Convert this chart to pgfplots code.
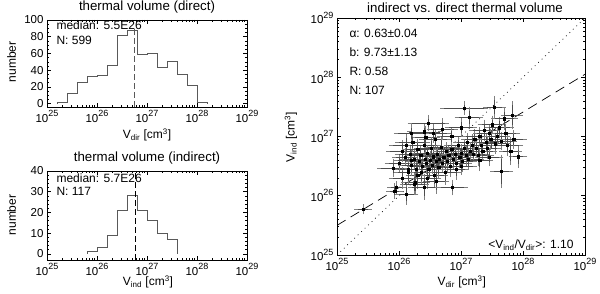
\documentclass[border=0pt]{standalone}
\usepackage{pgfplots}
\usepackage{pgfplotstable}
\pgfplotsset{compat=1.18}
\usepackage{fontspec}
\setmainfont{Liberation Sans}
\newcommand{\tp}[1]{10\raisebox{0.5em}{\fontsize{9}{9}\selectfont#1}}
\newcommand{\fs}{\fontsize{12}{13}\selectfont}
\newcommand{\ft}{\fontsize{13.3}{14}\selectfont}

\pgfplotstableread{
x y ex ey
25.42 25.77 0.11 0.05
25.93 26.08 0.10 0.10
25.96 26.14 0.12 0.07
26.12 26.03 0.16 0.15
25.90 26.47 0.22 0.12
26.05 26.30 0.18 0.15
26.15 26.45 0.20 0.15
26.20 26.60 0.25 0.15
26.26 26.22 0.20 0.18
26.30 26.35 0.15 0.20
26.86 26.14 0.22 0.10
27.65 26.41 0.15 0.25
27.92 26.66 0.12 0.15
27.80 26.75 0.15 0.20
27.05 27.48 0.35 0.08
27.54 27.50 0.15 0.15
27.13 27.32 0.20 0.15
27.82 27.36 0.15 0.20
26.41 27.08 0.25 0.10
26.43 26.99 0.20 0.15
26.47 27.23 0.30 0.10
26.00 26.55 0.20 0.12
26.05 26.75 0.22 0.15
26.10 26.65 0.18 0.12
26.12 26.85 0.25 0.15
26.15 26.40 0.20 0.18
26.18 26.70 0.22 0.12
26.20 26.52 0.18 0.15
26.22 26.90 0.25 0.12
26.25 26.62 0.20 0.15
26.28 26.45 0.15 0.12
26.30 26.78 0.22 0.15
26.32 26.58 0.18 0.10
26.35 26.68 0.20 0.15
26.36 26.40 0.15 0.18
26.38 26.50 0.22 0.12
26.40 26.85 0.25 0.15
26.42 26.62 0.18 0.12
26.44 26.55 0.20 0.15
26.45 26.72 0.22 0.10
26.48 26.45 0.18 0.15
26.50 26.60 0.20 0.12
26.52 26.80 0.25 0.15
26.54 26.52 0.15 0.12
26.55 26.66 0.20 0.15
26.57 26.35 0.18 0.18
26.58 26.95 0.22 0.12
26.60 26.58 0.20 0.15
26.62 26.70 0.18 0.12
26.64 26.48 0.22 0.15
26.65 26.62 0.20 0.10
26.68 26.82 0.25 0.15
26.70 26.55 0.18 0.12
26.72 26.65 0.20 0.15
26.74 26.40 0.22 0.18
26.76 26.75 0.18 0.12
26.78 26.58 0.20 0.15
26.80 26.68 0.22 0.12
26.82 26.50 0.18 0.15
26.85 26.78 0.25 0.12
26.88 26.62 0.20 0.15
26.90 26.70 0.18 0.10
26.92 26.55 0.22 0.15
26.95 26.85 0.20 0.12
26.98 26.65 0.18 0.15
27.00 26.72 0.22 0.12
27.02 26.58 0.20 0.15
27.05 26.80 0.25 0.12
27.08 26.68 0.18 0.15
27.10 26.90 0.20 0.12
27.12 26.62 0.22 0.15
27.15 26.75 0.18 0.12
27.18 26.85 0.20 0.15
27.20 26.70 0.22 0.10
27.22 26.95 0.18 0.15
27.25 26.80 0.20 0.12
27.28 26.68 0.22 0.15
27.30 27.00 0.25 0.12
27.32 26.85 0.18 0.15
27.35 26.75 0.20 0.12
27.38 27.10 0.22 0.15
27.40 26.90 0.18 0.12
27.42 26.80 0.20 0.15
27.45 27.05 0.22 0.12
27.48 26.95 0.18 0.15
27.50 27.20 0.20 0.12
27.55 26.88 0.22 0.15
27.58 27.00 0.18 0.12
27.62 27.15 0.20 0.15
27.65 26.92 0.22 0.12
27.70 27.30 0.18 0.15
27.72 27.05 0.20 0.12
27.75 26.85 0.22 0.15
27.85 26.95 0.18 0.12
26.55 27.05 0.25 0.12
26.70 27.12 0.22 0.15
26.85 27.00 0.20 0.12
26.92 26.45 0.18 0.15
27.00 26.50 0.22 0.12
26.45 26.30 0.20 0.15
26.60 26.25 0.18 0.18
26.25 26.20 0.20 0.15
26.40 26.15 0.22 0.18
27.30 26.60 0.18 0.15
27.45 26.65 0.20 0.12
27.00 27.15 0.22 0.12
26.20 27.05 0.25 0.12
}\scat

\pgfplotsset{
  idl/.style={scale only axis, axis line style={black, line width=0.6pt},
    tick align=inside, xtick pos=both, ytick pos=both,
    major tick length=4pt, minor tick length=2pt,
    every tick/.style={black, line width=0.5pt},
    ticklabel style={font=\fontsize{11.5}{12}\selectfont},
    /pgf/number format/assume math mode=true},
  expx/.style={xmin=25, xmax=29, xtick={25,26,27,28,29},
    xticklabels={\tp{25},\tp{26},\tp{27},\tp{28},\tp{29}},
    minor xtick={25.301,25.477,25.602,25.699,25.778,25.845,25.903,25.954,
      26.301,26.477,26.602,26.699,26.778,26.845,26.903,26.954,
      27.301,27.477,27.602,27.699,27.778,27.845,27.903,27.954,
      28.301,28.477,28.602,28.699,28.778,28.845,28.903,28.954}},
  expy/.style={ymin=25, ymax=29, ytick={25,26,27,28,29},
    yticklabels={\tp{25},\tp{26},\tp{27},\tp{28},\tp{29}},
    minor ytick={25.301,25.477,25.602,25.699,25.778,25.845,25.903,25.954,
      26.301,26.477,26.602,26.699,26.778,26.845,26.903,26.954,
      27.301,27.477,27.602,27.699,27.778,27.845,27.903,27.954,
      28.301,28.477,28.602,28.699,28.778,28.845,28.903,28.954}},
}

\begin{document}
\begin{tikzpicture}[x=1pt,y=1pt]
\useasboundingbox (0,0) rectangle (600,294);

% top histogram
\begin{axis}[idl, expx, at={(47pt,187pt)}, anchor=south west,
  width=200pt, height=87pt, ymin=-4, ymax=100,
  ytick={0,20,40,60,80,100}, minor y tick num=3]
\addplot[const plot mark right, black!65, line width=0.8pt] coordinates {
 (25.2,0) (25.4,1) (25.6,12) (25.8,25) (26.0,32) (26.2,34) (26.4,46)
 (26.6,81) (26.8,88) (27.0,59) (27.2,60) (27.4,43) (27.6,51) (27.8,35)
 (28.0,22) (28.2,2) (28.2,0)};
\addplot[black!65, line width=0.8pt, dash pattern=on 6pt off 3pt] coordinates {(26.74,-4) (26.74,89)};
\end{axis}

% bottom histogram
\begin{axis}[idl, expx, at={(47pt,34pt)}, anchor=south west,
  width=200pt, height=89pt, ymin=-3, ymax=40,
  ytick={0,10,20,30,40}, minor y tick num=4]
\addplot[const plot mark right, black!65, line width=0.8pt] coordinates {
 (25.8,0) (26.0,1) (26.2,3) (26.4,9) (26.6,21) (26.8,28) (27.0,21)
 (27.2,16) (27.4,10) (27.6,7) (27.6,0)};
\addplot[black, line width=0.6pt, dash pattern=on 6pt off 3pt] coordinates {(26.756,-3) (26.756,40)};
\end{axis}

% scatter
\begin{axis}[idl, expx, expy, at={(337pt,39pt)}, anchor=south west,
  width=248pt, height=237pt]
\addplot[black, line width=0.7pt, dash pattern=on 0.8pt off 4pt] coordinates {(25,25) (29,29)};
\addplot[black, line width=0.7pt, dash pattern=on 10pt off 6pt] coordinates {(25,25.50) (29,28.05)};
\addplot[only marks, mark=square*, mark size=1.1pt, black,
  error bars/.cd, x dir=both, x explicit, y dir=both, y explicit,
  error bar style={black!70, line width=0.5pt},
  error mark options={black!50, mark size=2pt, line width=0.6pt}]
  table[x=x, y=y, x error=ex, y error=ey] {\scat};
\end{axis}

% titles and labels
\node[font=\ft] at (147,286.7) {thermal volume (direct)};
\node[font=\ft] at (147,135.7) {thermal volume (indirect)};
\node[font=\ft] at (465,286.7) {indirect vs. direct thermal volume};
\node[font=\fs, rotate=90] at (11.7,232.3) {number};
\node[font=\fs, rotate=90] at (11.7,79) {number};
\node[font=\fs, rotate=90] at (291,157) {V\textsubscript{ind} [cm\textsuperscript{3}]};
\node[font=\fs] at (147,159) {V\textsubscript{dir} [cm\textsuperscript{3}]};
\node[font=\fs] at (148,12.3) {V\textsubscript{ind} [cm\textsuperscript{3}]};
\node[font=\fs] at (461.7,12.3) {V\textsubscript{dir} [cm\textsuperscript{3}]};

\node[font=\fs, anchor=west] at (53,269) {median: 5.5E26};
\node[font=\fs, anchor=west] at (53,253.3) {N: 599};
\node[font=\fs, anchor=west] at (53,115.7) {median: 5.7E26};
\node[font=\fs, anchor=west] at (53,103) {N: 117};

\node[font=\fs, anchor=west] at (346,260.7) {α: 0.63±0.04};
\node[font=\fs, anchor=west] at (346,241.3) {b: 9.73±1.13};
\node[font=\fs, anchor=west] at (346,223) {R: 0.58};
\node[font=\fs, anchor=west] at (346,204) {N: 107};
\node[font=\fs, anchor=east] at (577,49) {<V\textsubscript{ind}/V\textsubscript{dir}>: 1.10};
\end{tikzpicture}
\end{document}
